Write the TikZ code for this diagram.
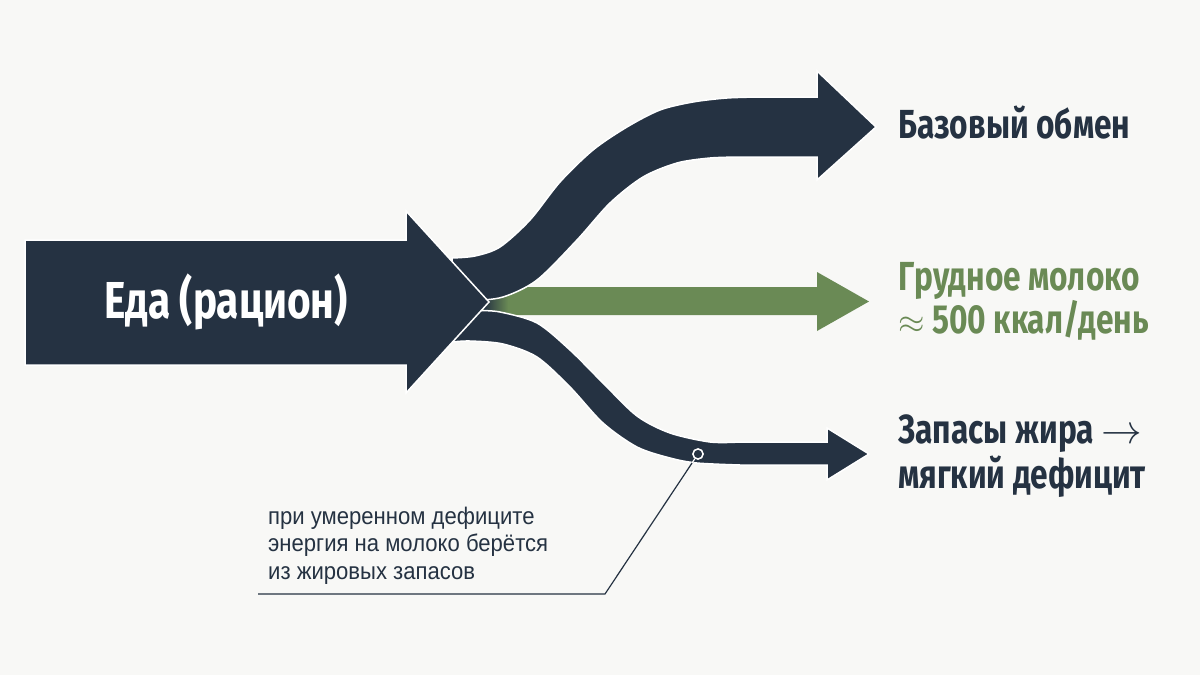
\documentclass[tikz,border=0pt]{standalone}
\usepackage{fix-cm}
\usepackage{fontspec}
\setmainfont{Liberation Sans}
\newfontfamily\cond[FakeStretch=0.78]{Fira Sans}
\newfontfamily\notefont[FakeStretch=0.92]{Liberation Sans}
\usetikzlibrary{calc}
\definecolor{navy}{RGB}{37,50,66}
\definecolor{leaf}{RGB}{106,138,85}
\definecolor{bgc}{RGB}{248,248,246}
\tikzset{
  band/.style={fill=navy, draw=white, line width=1.5pt, line join=miter},
  lab/.style={anchor=base west, inner sep=0pt, align=left, font=\cond\bfseries\fontsize{40.6}{38}\selectfont},
  note/.style={anchor=base west, inner sep=0pt, align=left, text=navy, font=\notefont\fontsize{24}{27.5}\selectfont},
  leader/.style={draw=navy, line width=1.2pt},
  marker/.style={circle, draw=white, fill=navy, line width=1.4pt, minimum size=10pt, inner sep=0pt}
}
\begin{document}
\begin{tikzpicture}[x=1pt,y=-1pt]
\fill[bgc] (0,0) rectangle (1200,675);
\useasboundingbox (0,0) rectangle (1200,675);

% green branch
\fill[leaf] (470,287) -- (817,287) -- (817,272) -- (869,301.5) -- (817,331) -- (817,315) -- (470,315) -- cycle;
\shade[left color=navy, right color=leaf] (484,287) rectangle (508,315);

% top branch
\path[band] plot[smooth] coordinates {(452,258) (475,256) (500,247) (530,220) (560,182) (593,150) (627,127) (660,110) (693,102) (727,98) (760,97)}
  -- (817,97) -- (817,71) -- (876,127) -- (817,180) -- (817,157) -- (745,157)
  -- plot[smooth] coordinates {(740,157) (710,158) (677,163) (643,177) (610,203) (577,240) (537,280) (503,297) (470,301) (452,302)} -- cycle;

% bottom branch
\path[band] plot[smooth] coordinates {(452,305) (475,310) (500,312) (537,323) (570,350) (603,383) (637,416) (670,433) (710,442) (740,442)}
  -- (827,442) -- (827,428) -- (869,454) -- (827,480) -- (827,465) -- (745,465)
  -- plot[smooth] coordinates {(740,465) (697,463) (670,458) (637,447) (603,423) (570,387) (537,357) (503,344) (470,341) (452,342)} -- cycle;

% main arrow
\path[band] (25,240) -- (406,240) -- (406,211) -- (489,302) -- (406,393) -- (406,365) -- (25,365) -- cycle;
\node[anchor=base, inner sep=0pt, text=white, font=\cond\bfseries\fontsize{52}{52}\selectfont] (food) at (226,318) {Еда (рацион)};

% labels (base anchor = last line)
\node[lab, text=navy] (basal) at (898,138) {Базовый обмен};
\node[lab, text=leaf] (milk) at (898,333) {Грудное молоко\\[-1pt]{\fontsize{34}{34}\selectfont$\approx$}\ 500 ккал/день};
\node[lab, text=navy] (fat) at (898,488) {Запасы жира $\rightarrow$\\[2pt]мягкий дефицит};

% annotation
\coordinate (elbow) at (605,594);
\coordinate (lend) at (258,594);
\node[marker] (mark) at (698,454) {};
\draw[leader] (mark) -- (elbow) -- (lend);
\draw[white, line width=1.2pt] (mark) -- ($(mark)!0.065!(elbow)$);
\node[marker] at (mark) {};
\node[note] (notetext) at (268,579) {при умеренном дефиците\\энергия на молоко берётся\\из жировых запасов};
\end{tikzpicture}
\end{document}
